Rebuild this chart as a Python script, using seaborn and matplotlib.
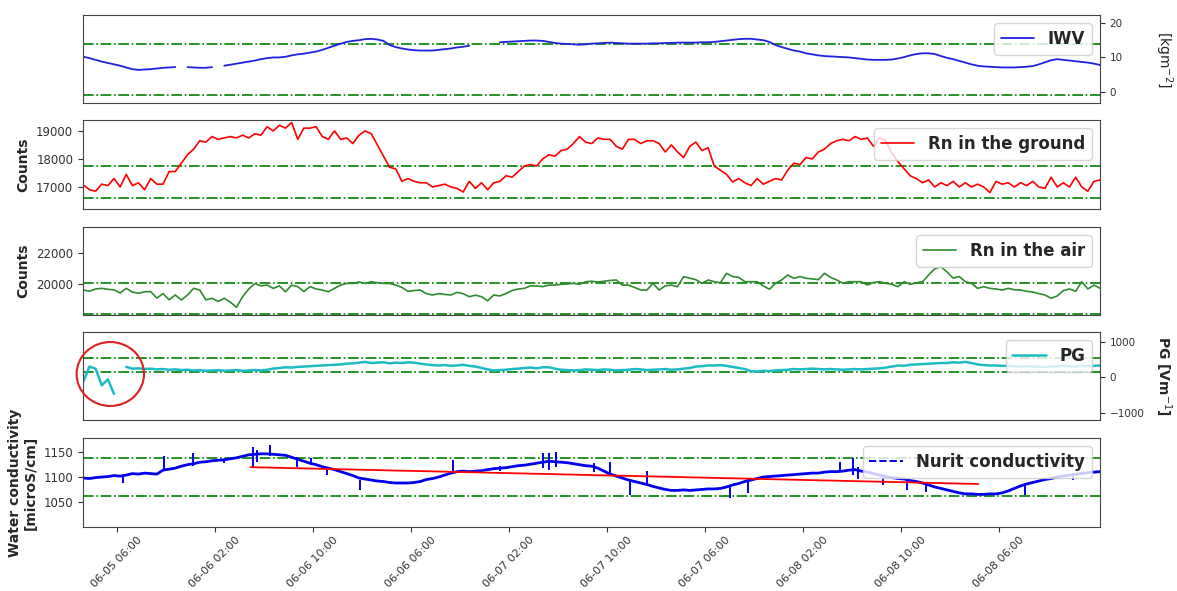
import numpy as np
import pandas as pd
import seaborn as sns
import matplotlib
matplotlib.use("Agg")
import matplotlib.pyplot as plt
from matplotlib.lines import Line2D
from matplotlib.patches import Ellipse

# ---------------------------------------------------------------------------
# Data: half-hourly samples, time in hours relative to the first labelled tick
# ---------------------------------------------------------------------------
START_HOUR = -2.75
STEP_HOURS = 0.5

tick_hours = [0, 8, 16, 24, 32, 40, 48, 56, 64, 72]
tick_labels = ["06-05 06:00", "06-06 02:00", "06-06 10:00", "06-06 06:00",
               "06-07 02:00", "06-07 10:00", "06-07 06:00", "06-08 02:00",
               "06-08 10:00", "06-08 06:00"]

nan = np.nan

iwv = [
    10.2, 9.8, 9.3, 8.8, 8.4, 8.0, 7.6, 7.1, 6.6, 6.4,
    6.5, 6.6, 6.8, 7.0, 7.1, 7.2, nan, 7.2, 7.1, 7.0,
    7.0, 7.2, nan, 7.6, 7.9, 8.2, 8.5, 8.8, 9.1, 9.5,
    9.8, 10.0, 10.0, 10.2, 10.6, 10.9, 11.1, 11.4, 11.7, 12.2,
    12.8, 13.4, 14.0, 14.5, 14.8, 15.0, 15.3, 15.4, 15.2, 14.8,
    13.6, 13.0, 12.6, 12.3, 12.1, 12.0, 12.0, 12.0, 12.2, 12.4,
    12.6, 12.9, 13.1, 13.4, nan, nan, nan, nan, 14.4, 14.5,
    14.6, 14.7, 14.8, 14.9, 14.9, 14.8, 14.5, 14.2, 14.0, 13.9,
    13.8, 13.7, 13.8, 14.0, 14.1, 14.2, 14.3, 14.2, 14.1, 14.0,
    14.0, 14.0, 14.0, 14.1, 14.1, 14.2, 14.2, 14.3, 14.3, 14.3,
    14.3, 14.4, 14.4, 14.5, 14.7, 14.9, 15.1, 15.3, 15.4, 15.4,
    15.2, 15.0, 14.5, 13.6, 13.0, 12.5, 12.0, 11.7, 11.2, 10.9,
    10.6, 10.4, 10.3, 10.2, 10.1, 10.0, 9.8, 9.6, 9.4, 9.3,
    9.3, 9.3, 9.4, 9.7, 10.1, 10.6, 11.0, 11.2, 11.2, 11.0,
    10.4, 9.9, 9.5, 9.0, 8.5, 8.0, 7.6, 7.4, 7.3, 7.2,
    7.1, 7.1, 7.1, 7.2, 7.3, 7.5, 8.0, 8.6, 9.2, 9.5,
    9.3, 9.1, 8.9, 8.7, 8.5, 8.2, 7.8,
]

rn_ground = [
    17070, 16900, 16850, 17100, 17050, 17300, 17000, 17450, 17050, 17150,
    16900, 17300, 17100, 17100, 17550, 17550, 17850, 18150, 18350, 18650,
    18600, 18800, 18700, 18750, 18800, 18750, 18850, 18750, 18900, 18850,
    19150, 19000, 19200, 19100, 19300, 18700, 19100, 19100, 19150, 18800,
    18700, 19000, 18700, 18750, 18550, 18850, 19000, 18900, 18500, 18100,
    17700, 17650, 17200, 17300, 17200, 17150, 17150, 17000, 17050, 17100,
    17000, 16950, 16820, 17200, 16950, 17150, 16900, 17150, 17200, 17400,
    17350, 17550, 17750, 17800, 17750, 18000, 18150, 18100, 18300, 18350,
    18550, 18800, 18600, 18550, 18750, 18700, 18700, 18450, 18350, 18700,
    18700, 18550, 18650, 18650, 18550, 18250, 18500, 18250, 18050, 18450,
    18600, 18300, 18400, 17750, 17600, 17450, 17180, 17300, 17150, 17050,
    17300, 17100, 17200, 17300, 17250, 17600, 17850, 17800, 18050, 18000,
    18250, 18350, 18550, 18650, 18700, 18650, 18800, 18700, 18750, 18450,
    18750, 18650, 18200, 17900, 17650, 17400, 17300, 17150, 17250, 17000,
    17150, 17050, 17200, 17000, 17150, 17000, 17100, 17000, 16800, 17200,
    17100, 17150, 17000, 17150, 17050, 17200, 17000, 16950, 17350, 17000,
    17150, 17000, 17350, 17000, 16850, 17200, 17250,
]

rn_air = [
    19630, 19560, 19700, 19740, 19680, 19640, 19440, 19740, 19500, 19420,
    19520, 19530, 19110, 19400, 19000, 19310, 18990, 19310, 19740, 19630,
    19000, 19100, 18900, 19100, 18850, 18520, 19200, 19700, 20050, 19900,
    19950, 19740, 19900, 19520, 19950, 19850, 19530, 19850, 19700, 19630,
    19520, 19740, 19950, 20060, 20060, 20150, 20060, 20170, 20100, 20060,
    20060, 19950, 19800, 19550, 19600, 19630, 19400, 19310, 19400, 19350,
    19310, 19480, 19400, 19200, 19300, 19200, 18940, 19310, 19250, 19400,
    19600, 19700, 19740, 19900, 19900, 19850, 19950, 19950, 20000, 20020,
    20065, 20000, 20170, 20200, 20150, 20200, 20250, 20280, 19950, 19950,
    19800, 19630, 19630, 20065, 19630, 19900, 19950, 19850, 20490, 20400,
    20300, 20065, 20280, 20170, 20100, 20710, 20500, 20450, 20170, 20170,
    20170, 19900, 19680, 20065, 20280, 20600, 20385, 20500, 20390, 20350,
    20300, 20710, 20450, 20280, 20065, 20170, 20170, 20170, 19955, 20120,
    20170, 20065, 20000, 19850, 20170, 20000, 20100, 20170, 20600, 21000,
    21140, 20800, 20400, 20500, 20170, 20065, 19740, 19850, 19740, 19700,
    19630, 19740, 19650, 19630, 19550, 19500, 19400, 19310, 19100, 19250,
    19600, 19700, 19550, 20170, 19700, 19950, 19740,
]

pg = [
    -120, 300, 240, -230, -60, -470, nan, 290, 240, 250,
    230, 240, 220, 230, 210, 220, 200, 210, 190, 200,
    180, 190, 200, 180, 190, 200, 180, 190, 200, 190,
    210, 240, 260, 280, 270, 290, 300, 310, 320, 330,
    340, 350, 360, 380, 390, 410, 430, 400, 410, 420,
    390, 410, 400, 420, 410, 380, 360, 340, 330, 340,
    320, 330, 350, 320, 300, 260, 220, 190, 200, 210,
    230, 240, 260, 270, 250, 280, 280, 240, 210, 200,
    190, 200, 220, 210, 200, 220, 210, 190, 200, 210,
    230, 220, 200, 210, 220, 230, 210, 220, 240, 260,
    300, 310, 330, 330, 340, 320, 290, 260, 230, 170,
    160, 180, 170, 190, 200, 210, 230, 220, 230, 240,
    230, 220, 230, 220, 210, 220, 230, 220, 230, 240,
    250, 270, 300, 330, 320, 350, 360, 370, 380, 390,
    400, 400, 420, 410, 430, 400, 360, 340, 330, 330,
    320, 320, 310, 300, 310, 300, 290, 290, 300, 310,
    320, 310, 300, 320, 310, 320, 330,
]

conductivity = [
    1098, 1097, 1099, 1100, 1101, 1103, 1102, 1104, 1107, 1106,
    1108, 1107, 1106, 1114, 1116, 1118, 1122, 1125, 1127, 1130,
    1131, 1133, 1134, 1135, 1137, 1139, 1142, 1145, 1146, 1147,
    1147, 1146, 1145, 1144, 1140, 1136, 1132, 1128, 1125, 1121,
    1118, 1115, 1111, 1107, 1103, 1098, 1096, 1094, 1092, 1091,
    1089, 1088, 1088, 1088, 1089, 1091, 1095, 1097, 1100, 1104,
    1108, 1111, 1112, 1111, 1112, 1113, 1115, 1117, 1118, 1119,
    1121, 1123, 1124, 1126, 1128, 1130, 1132, 1131, 1130, 1129,
    1127, 1125, 1123, 1122, 1118, 1112, 1106, 1102, 1098, 1094,
    1091, 1088, 1085, 1081, 1078, 1075, 1073, 1073, 1074, 1073,
    1074, 1075, 1076, 1076, 1077, 1080, 1084, 1087, 1091, 1094,
    1097, 1100, 1101, 1102, 1103, 1104, 1105, 1106, 1107, 1108,
    1108, 1110, 1111, 1111, 1112, 1114, 1115, 1112, 1110, 1107,
    1104, 1101, 1099, 1097, 1096, 1093, 1091, 1088, 1084, 1080,
    1077, 1074, 1071, 1068, 1066, 1066, 1065, 1065, 1066, 1066,
    1068, 1072, 1077, 1082, 1086, 1089, 1092, 1095, 1097, 1100,
    1102, 1104, 1106, 1107, 1109, 1110, 1111,
]

# short sensor glitches in the conductivity record (hour, low, high)
spike_hours = [0.5, 3.8, 6.2, 8.7, 11.1, 11.4, 12.5, 14.7, 15.8, 17.1, 19.8,
               27.4, 31.3, 34.8, 35.3, 35.8, 38.9, 40.2, 41.9, 43.3, 50.0,
               51.5, 59.0, 60.1, 60.5, 62.5, 64.5, 66.0, 74.1, 78.0]
spike_low = [1088, 1115, 1122, 1128, 1121, 1130, 1142, 1120, 1125, 1105, 1074,
             1108, 1112, 1118, 1115, 1120, 1110, 1102, 1064, 1085, 1058,
             1067, 1110, 1105, 1096, 1084, 1074, 1069, 1063, 1095]
spike_high = [1105, 1142, 1149, 1137, 1161, 1155, 1164, 1140, 1138, 1120, 1094,
              1135, 1122, 1149, 1148, 1150, 1128, 1130, 1092, 1112, 1080,
              1098, 1131, 1138, 1120, 1105, 1095, 1088, 1088, 1108]

# linear trend of the conductivity record
trend_hours = [10.9, 70.3]
trend_values = [1120, 1086]

# reference levels drawn on every panel
iwv_levels = [13.8, -0.9]
rn_ground_levels = [17760, 16600]
rn_air_levels = [20100, 18060]
pg_levels = [535, 140]
conductivity_levels = [1138, 1061]

hours = START_HOUR + STEP_HOURS * np.arange(len(rn_ground))

# ---------------------------------------------------------------------------
sns.set_style("ticks")
plt.rcParams["font.family"] = ["DejaVu Sans"]
plt.rcParams["axes.edgecolor"] = "#444444"
plt.rcParams["xtick.color"] = "#333333"
plt.rcParams["ytick.color"] = "#333333"

fig = plt.figure(figsize=(11.77, 5.91), dpi=100)
W, H = 1177.0, 591.0
left, right = 83 / W, 1100 / W
rows = [(15, 103), (120, 209), (227, 315), (332, 420), (438, 527)]
axes = [fig.add_axes([left, 1 - b / H, right - left, (b - t) / H]) for t, b in rows]
ax_iwv, ax_rg, ax_ra, ax_pg, ax_c = axes

X_LIM = (-2.78, 80.24)
LEG = dict(loc="upper right", prop={"weight": "bold", "size": 12})


def draw_series(ax, values, color, lw):
    df = pd.DataFrame({"t": hours, "v": values})
    ok = df["v"].notna()
    segment = (~ok).cumsum()
    for _, part in df[ok].groupby(segment[ok]):
        sns.lineplot(data=part, x="t", y="v", ax=ax, color=color, linewidth=lw,
                     estimator=None, sort=False, legend=False)


def draw_levels(ax, levels):
    for lv in levels:
        ax.axhline(lv, color="green", linestyle="-.", linewidth=1.2, zorder=1)


def finish(ax, ylim, yticks, side="left", show_x=False, tick_size=8):
    ax.set_xlim(*X_LIM)
    ax.set_ylim(*ylim)
    ax.set_yticks(yticks)
    ax.set_xticks(tick_hours)
    if show_x:
        ax.set_xticklabels(tick_labels, rotation=45, fontsize=8)
        ax.tick_params(axis="x", pad=2)
    else:
        ax.set_xticklabels([])
        ax.tick_params(axis="x", length=0)
    if side == "right":
        ax.yaxis.tick_right()
        ax.yaxis.set_label_position("right")
    ax.tick_params(axis="y", labelsize=tick_size)
    ax.set_xlabel("")
    ax.set_ylabel("")


# IWV
draw_levels(ax_iwv, iwv_levels)
draw_series(ax_iwv, iwv, "#2020e0", 1.3)
finish(ax_iwv, (-3.2, 22.3), [0, 10, 20], side="right", tick_size=7.5)
ax_iwv.set_ylabel("[kgm$^{-2}$]", rotation=270, va="bottom", fontsize=10)
ax_iwv.yaxis.set_label_coords(1.052, 0.5)
ax_iwv.legend([Line2D([], [], color="#2020e0", lw=1.3)], ["IWV"], **LEG)

# Radon in the ground
draw_levels(ax_rg, rn_ground_levels)
draw_series(ax_rg, rn_ground, "red", 1.2)
finish(ax_rg, (16214, 19390), [17000, 18000, 19000], tick_size=8.5)
ax_rg.set_ylabel("Counts", fontsize=10, fontweight="bold")
ax_rg.legend([Line2D([], [], color="red", lw=1.2)], ["Rn in the ground"], **LEG)

# Radon in the air
draw_levels(ax_ra, rn_air_levels)
draw_series(ax_ra, rn_air, "#2e8b2e", 1.2)
finish(ax_ra, (18020, 23700), [20000, 22000], tick_size=8.5)
ax_ra.set_ylabel("Counts", fontsize=10, fontweight="bold")
ax_ra.legend([Line2D([], [], color="#2e8b2e", lw=1.2)], ["Rn in the air"], **LEG)

# Potential gradient
draw_levels(ax_pg, pg_levels)
draw_series(ax_pg, pg, "#1cbcc4", 1.8)
finish(ax_pg, (-1205, 1273), [-1000, 0, 1000], side="right", tick_size=7.5)
ax_pg.set_ylabel("PG [Vm$^{-1}$]", rotation=270, va="bottom", fontsize=10,
                 fontweight="bold")
ax_pg.yaxis.set_label_coords(1.052, 0.5)
ax_pg.legend([Line2D([], [], color="#1cbcc4", lw=1.8)], ["PG"], **LEG)
ax_pg.add_patch(Ellipse((-0.55, 90), 5.5, 1800, fill=False, edgecolor="#e02020",
                        linewidth=1.5, clip_on=False, zorder=5))

# Water conductivity
draw_levels(ax_c, conductivity_levels)
draw_series(ax_c, conductivity, "#0000ee", 2.0)
ax_c.vlines(spike_hours, spike_low, spike_high, color="#0000ee", linewidth=1.4)
sns.lineplot(x=trend_hours, y=trend_values, ax=ax_c, color="red", linewidth=1.3,
             legend=False)
finish(ax_c, (999, 1179), [1050, 1100, 1150], show_x=True, tick_size=8.5)
ax_c.set_ylabel("Water conductivity\n[microS/cm]", fontsize=10, fontweight="bold")
ax_c.legend([Line2D([], [], color="#0000ee", lw=1.4, linestyle="--")],
            ["Nurit conductivity"], **LEG)

fig.savefig("out.png", dpi=100)
